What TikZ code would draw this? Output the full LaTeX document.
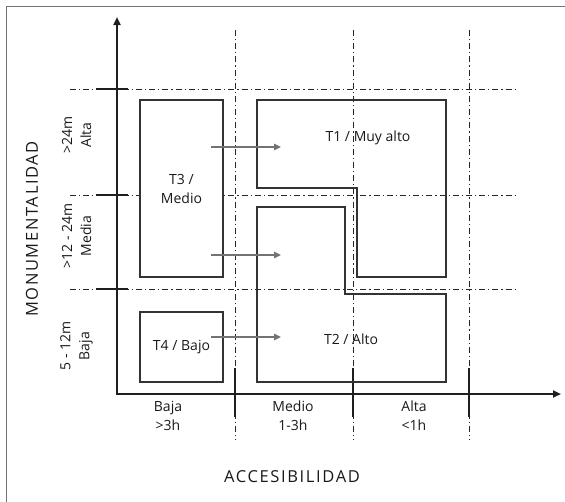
\documentclass[tikz,border=0pt]{standalone}
\usepackage{fontspec}
\setmainfont{Open Sans}
\newfontfamily\spaced[LetterSpace=10]{Open Sans}
\usetikzlibrary{arrows.meta}
\begin{document}
\begin{tikzpicture}[x=1pt,y=-1pt,
  gridline/.style={line width=0.8pt, black!85, dash pattern=on 6pt off 3pt on 1.2pt off 3pt},
  axisline/.style={line width=2.3pt, black!88},
  tickmark/.style={line width=1.4pt, black!88},
  region/.style={draw=black!80, line width=1.2pt},
  flow/.style={draw=black!55, line width=1.1pt, -{Triangle[length=7pt,width=6.5pt]}},
  lbl/.style={font=\fontsize{14}{19}\selectfont, text=black!90, inner sep=0pt, align=center},
  title/.style={font=\spaced\fontsize{16.5}{19}\selectfont, text=black!90, inner sep=0pt}
]
\useasboundingbox (0,0) rectangle (565,501);
% frame
\draw[black!55, line width=0.8pt] (6,502) -- (6,6) -- (566,6);

% grid lines
\foreach \x/\n in {235/v1,353/v2,469/v3}{
  \coordinate (\n t) at (\x,30);
  \coordinate (\n b) at (\x,440);
  \coordinate (\n s) at (\x,368);
  \coordinate (\n e) at (\x,417);
  \draw[gridline] (\n t) -- (\n b);
  \draw[tickmark] (\n s) -- (\n e);
}
\foreach \y/\n in {89/h1,195/h2,289/h3}{
  \coordinate (\n l) at (70,\y);
  \coordinate (\n r) at (517,\y);
  \coordinate (\n s) at (96,\y);
  \coordinate (\n e) at (128,\y);
  \draw[gridline] (\n l) -- (\n r);
  \draw[tickmark] (\n s) -- (\n e);
}

% axes
\coordinate (O) at (117,394);
\coordinate (ytop) at (117,17);
\coordinate (xend) at (561,394);
\draw[axisline, {Triangle[length=8pt,width=7pt]}-{Triangle[length=8pt,width=7pt]}] (ytop) -- (O) -- (xend);

% regions
\node[region, fill=white, minimum width=83pt, minimum height=177pt, lbl] (t3) at (181.5,188.5) {T3 /\\Medio};
\node[region, fill=white, minimum width=83pt, minimum height=70pt, lbl] (t4) at (181.5,347) {T4 / Bajo};
\draw[region] (257,100) -- (446,100) -- (446,277) -- (357,277) -- (357,188) -- (257,188) -- cycle;
\draw[region] (257,207) -- (345,207) -- (345,294) -- (446,294) -- (446,382) -- (257,382) -- cycle;
\node[lbl] (t1) at (368,138) {T1 / Muy alto};
\node[lbl] (t2) at (351,339) {T2 / Alto};

% flows
\coordinate (a1s) at (211,147); \coordinate (a1e) at (281,147);
\coordinate (a2s) at (211,255); \coordinate (a2e) at (281,255);
\coordinate (a3s) at (211,337); \coordinate (a3e) at (281,337);
\draw[flow] (a1s) -- (a1e);
\draw[flow] (a2s) -- (a2e);
\draw[flow] (a3s) -- (a3e);

% x labels
\node[lbl] (xb) at (168,415.5) {Baja\\>3h};
\node[lbl] (xm) at (293,415.5) {Medio\\1-3h};
\node[lbl] (xa) at (414,415.5) {Alta\\<1h};
\node[title] (xt) at (292,477) {ACCESIBILIDAD};

% y labels
\node[lbl, rotate=90] (ya) at (76.5,135) {>24m\\Alta};
\node[lbl, rotate=90] (ym) at (76.5,236) {>12 - 24m\\Media};
\node[lbl, rotate=90] (yb) at (76.5,346) {5 - 12m\\Baja};
\node[title, rotate=90] (yt) at (32,229) {MONUMENTALIDAD};
\end{tikzpicture}
\end{document}
